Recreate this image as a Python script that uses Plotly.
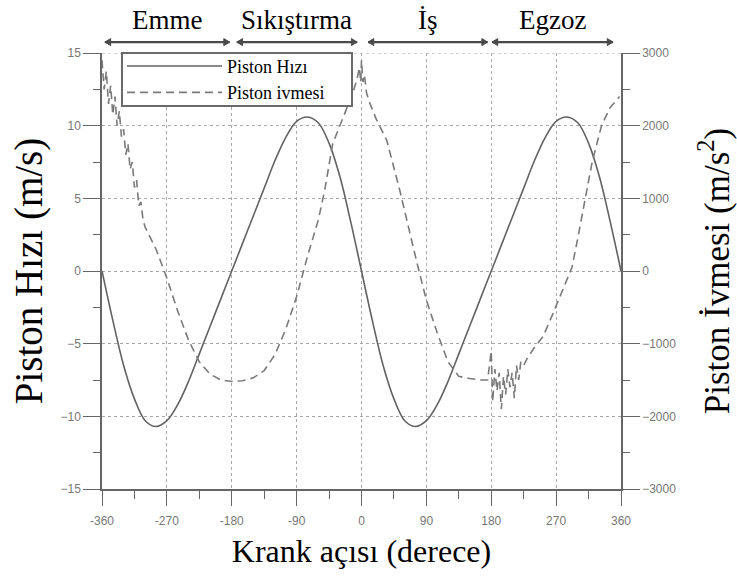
import plotly.graph_objects as go

# ---------------- data ----------------
vel_angle = [-360, -345, -330, -315, -300, -285, -270, -255, -240, -225, -210, -195,
             -180, -165, -150, -135, -120, -105, -90, -75, -60, -45, -30, -15,
             0, 15, 30, 45, 60, 75, 90, 105, 120, 135, 150, 165,
             180, 195, 210, 225, 240, 255, 270, 285, 300, 315, 330, 345, 360]
vel_values = [0, -3.4, -6.5, -8.8, -10.3, -10.7, -10.3, -9.2, -7.6, -5.7, -3.8, -1.9,
              0, 1.9, 3.8, 5.7, 7.6, 9.2, 10.3, 10.6, 10.2, 8.8, 6.5, 3.4,
              0, -3.4, -6.5, -8.8, -10.3, -10.7, -10.3, -9.2, -7.6, -5.7, -3.8, -1.9,
              0, 1.9, 3.8, 5.7, 7.6, 9.2, 10.3, 10.6, 10.2, 8.8, 6.5, 3.4, 0]

acc_angle = [-360, -357, -354, -351, -348, -345, -342, -339, -336, -333, -330, -327,
             -324, -321, -318, -315, -312, -309, -306, -303, -300, -285, -270, -255,
             -240, -225, -210, -195, -180, -165, -150, -135, -120, -105, -90, -75,
             -60, -51, -40, -30, -20, -12, -6, -3, -1, 0, 2, 4, 7, 12, 20, 35,
             53, 65, 77, 90, 105, 120, 135, 150, 165, 175,
             180, 182, 185, 188, 191, 194, 197, 200, 203, 206, 209, 212, 215, 218,
             221, 225, 230, 240, 252, 265, 280, 292, 300, 310, 320, 333, 345, 358]
acc_values = [2900, 2500, 2750, 2300, 2550, 2150, 2400, 2000, 2200, 1850, 1950, 1600,
              1750, 1400, 1500, 1150, 1250, 900, 950, 700, 600, 300, -100, -550,
              -950, -1250, -1420, -1500, -1520, -1510, -1470, -1370, -1150, -800, -350, 200,
              700, 1114, 1750, 2000, 2250, 2450, 2650, 2800, 2600, 2900, 2600, 2700, 2450, 2300, 2100, 1800,
              1114, 600, 110, -400, -850, -1250, -1450, -1480, -1500, -1500,
              -1100, -1800, -1350, -1650, -1400, -1900, -1450, -1700, -1350, -1600, -1400, -1750, -1300, -1500,
              -1250, -1300, -1200, -1050, -900, -600, -250, 50, 450, 1000, 1500, 2000, 2250, 2400]

x_ticks = [-360, -270, -180, -90, 0, 90, 180, 270, 360]
phase_names = ["Emme", "Sıkıştırma", "İş", "Egzoz"]
phase_start = [-356, -173, 9, 181]
phase_end = [-183, -6, 175, 349]

# ---------------- figure ----------------
fig = go.Figure()
fig.add_trace(go.Scatter(x=vel_angle, y=vel_values, name="Piston Hızı", mode="lines",
                         line=dict(color="#626262", width=1.6, shape="spline"), yaxis="y"))
fig.add_trace(go.Scatter(x=acc_angle, y=acc_values, name="Piston ivmesi", mode="lines",
                         line=dict(color="#7a7a7a", width=1.6, dash="8px,5px"), yaxis="y2"))

serif = "Liberation Serif, Times New Roman, serif"
tick_font = dict(family="Liberation Sans, Arial, sans-serif", size=12, color="#777777")

fig.update_layout(
    width=737, height=578,
    margin=dict(l=102, r=116, t=53, b=89, autoexpand=False),
    paper_bgcolor="white", plot_bgcolor="white",
    showlegend=True,
    legend=dict(x=0.0385, y=1.012, xanchor="left", yanchor="top",
                bgcolor="rgba(0,0,0,0)", borderwidth=0,
                font=dict(family=serif, size=18, color="black"),
                itemwidth=95, tracegroupgap=0),
    xaxis=dict(range=[-360, 360], tickvals=x_ticks, ticktext=[str(v) for v in x_ticks],
               automargin=False,
               showgrid=True, gridcolor="#a8a8a8", griddash="dot", gridwidth=1,
               zeroline=False, showline=True, linecolor="#666666", linewidth=1.5,
               ticks="outside", ticklen=15, tickwidth=1.2, tickcolor="#666666",
               minor=dict(dtick=45, tick0=-360, ticks="outside", ticklen=8, tickcolor="#666666",
                          showgrid=False),
               tickfont=tick_font, ticklabelstandoff=5,
               title=dict(text="Krank açısı (derece)", font=dict(family=serif, size=32, color="black"),
                          standoff=12)),
    yaxis=dict(range=[-15, 15], dtick=5, tick0=-15, automargin=False,
               showgrid=True, gridcolor="#a8a8a8", griddash="dot", gridwidth=1,
               zeroline=False, showline=True, linecolor="#666666", linewidth=1.5,
               ticks="outside", ticklen=17, tickwidth=1.2, tickcolor="#666666",
               minor=dict(dtick=2.5, tick0=-15, ticks="outside", ticklen=7, tickcolor="#666666",
                          showgrid=False),
               tickfont=tick_font,
               title=dict(text="Piston Hızı (m/s)", font=dict(family=serif, size=39, color="black"),
                          standoff=6)),
    yaxis2=dict(range=[-3000, 3000], dtick=1000, tick0=-3000, overlaying="y", side="right",
                automargin=False,
                showgrid=False, zeroline=False, showline=True, linecolor="#666666", linewidth=1.5,
                ticks="outside", ticklen=17, tickwidth=1.2, tickcolor="#666666",
                minor=dict(dtick=500, tick0=-3000, ticks="outside", ticklen=7, tickcolor="#666666"),
                tickfont=tick_font,
                title=dict(text="Piston İvmesi (m/s<sup>2</sup>)",
                           font=dict(family=serif, size=35, color="black"), standoff=32)),
)

# dotted gridline at the top value (plot has no top frame)
fig.add_shape(type="line", xref="x", yref="y", x0=-360, x1=360, y0=15, y1=15,
              line=dict(color="#a8a8a8", width=1, dash="dot"), layer="below")

# legend frame (white box with grey border behind the legend entries)
fig.add_shape(type="rect", xref="paper", yref="paper", x0=0.0385, x1=0.4817, y0=0.8784, y1=1.0,
              fillcolor="white", line=dict(color="#6a6a6a", width=2), layer="above")

# phase arrows (line + small heads) and labels
ya = 1.025          # paper height of the arrows
hx, hy = 8, 0.008   # arrow head size (x in degrees, y in paper units)
for name, s, e in zip(phase_names, phase_start, phase_end):
    fig.add_shape(type="line", xref="x", yref="paper", x0=s, x1=e, y0=ya, y1=ya,
                  line=dict(color="#4a4a4a", width=2.2))
    fig.add_shape(type="path", xref="x", yref="paper",
                  path=f"M {e - hx},{ya - hy} L {e},{ya} L {e - hx},{ya + hy} Z",
                  fillcolor="#4a4a4a", line=dict(color="#4a4a4a", width=1))
    fig.add_shape(type="path", xref="x", yref="paper",
                  path=f"M {s + hx},{ya - hy} L {s},{ya} L {s + hx},{ya + hy} Z",
                  fillcolor="#4a4a4a", line=dict(color="#4a4a4a", width=1))
    fig.add_annotation(x=(s + e) / 2, y=1.075, xref="x", yref="paper", text=name, showarrow=False,
                       yanchor="middle", font=dict(family=serif, size=27, color="black"))

fig.write_html("out.html")
